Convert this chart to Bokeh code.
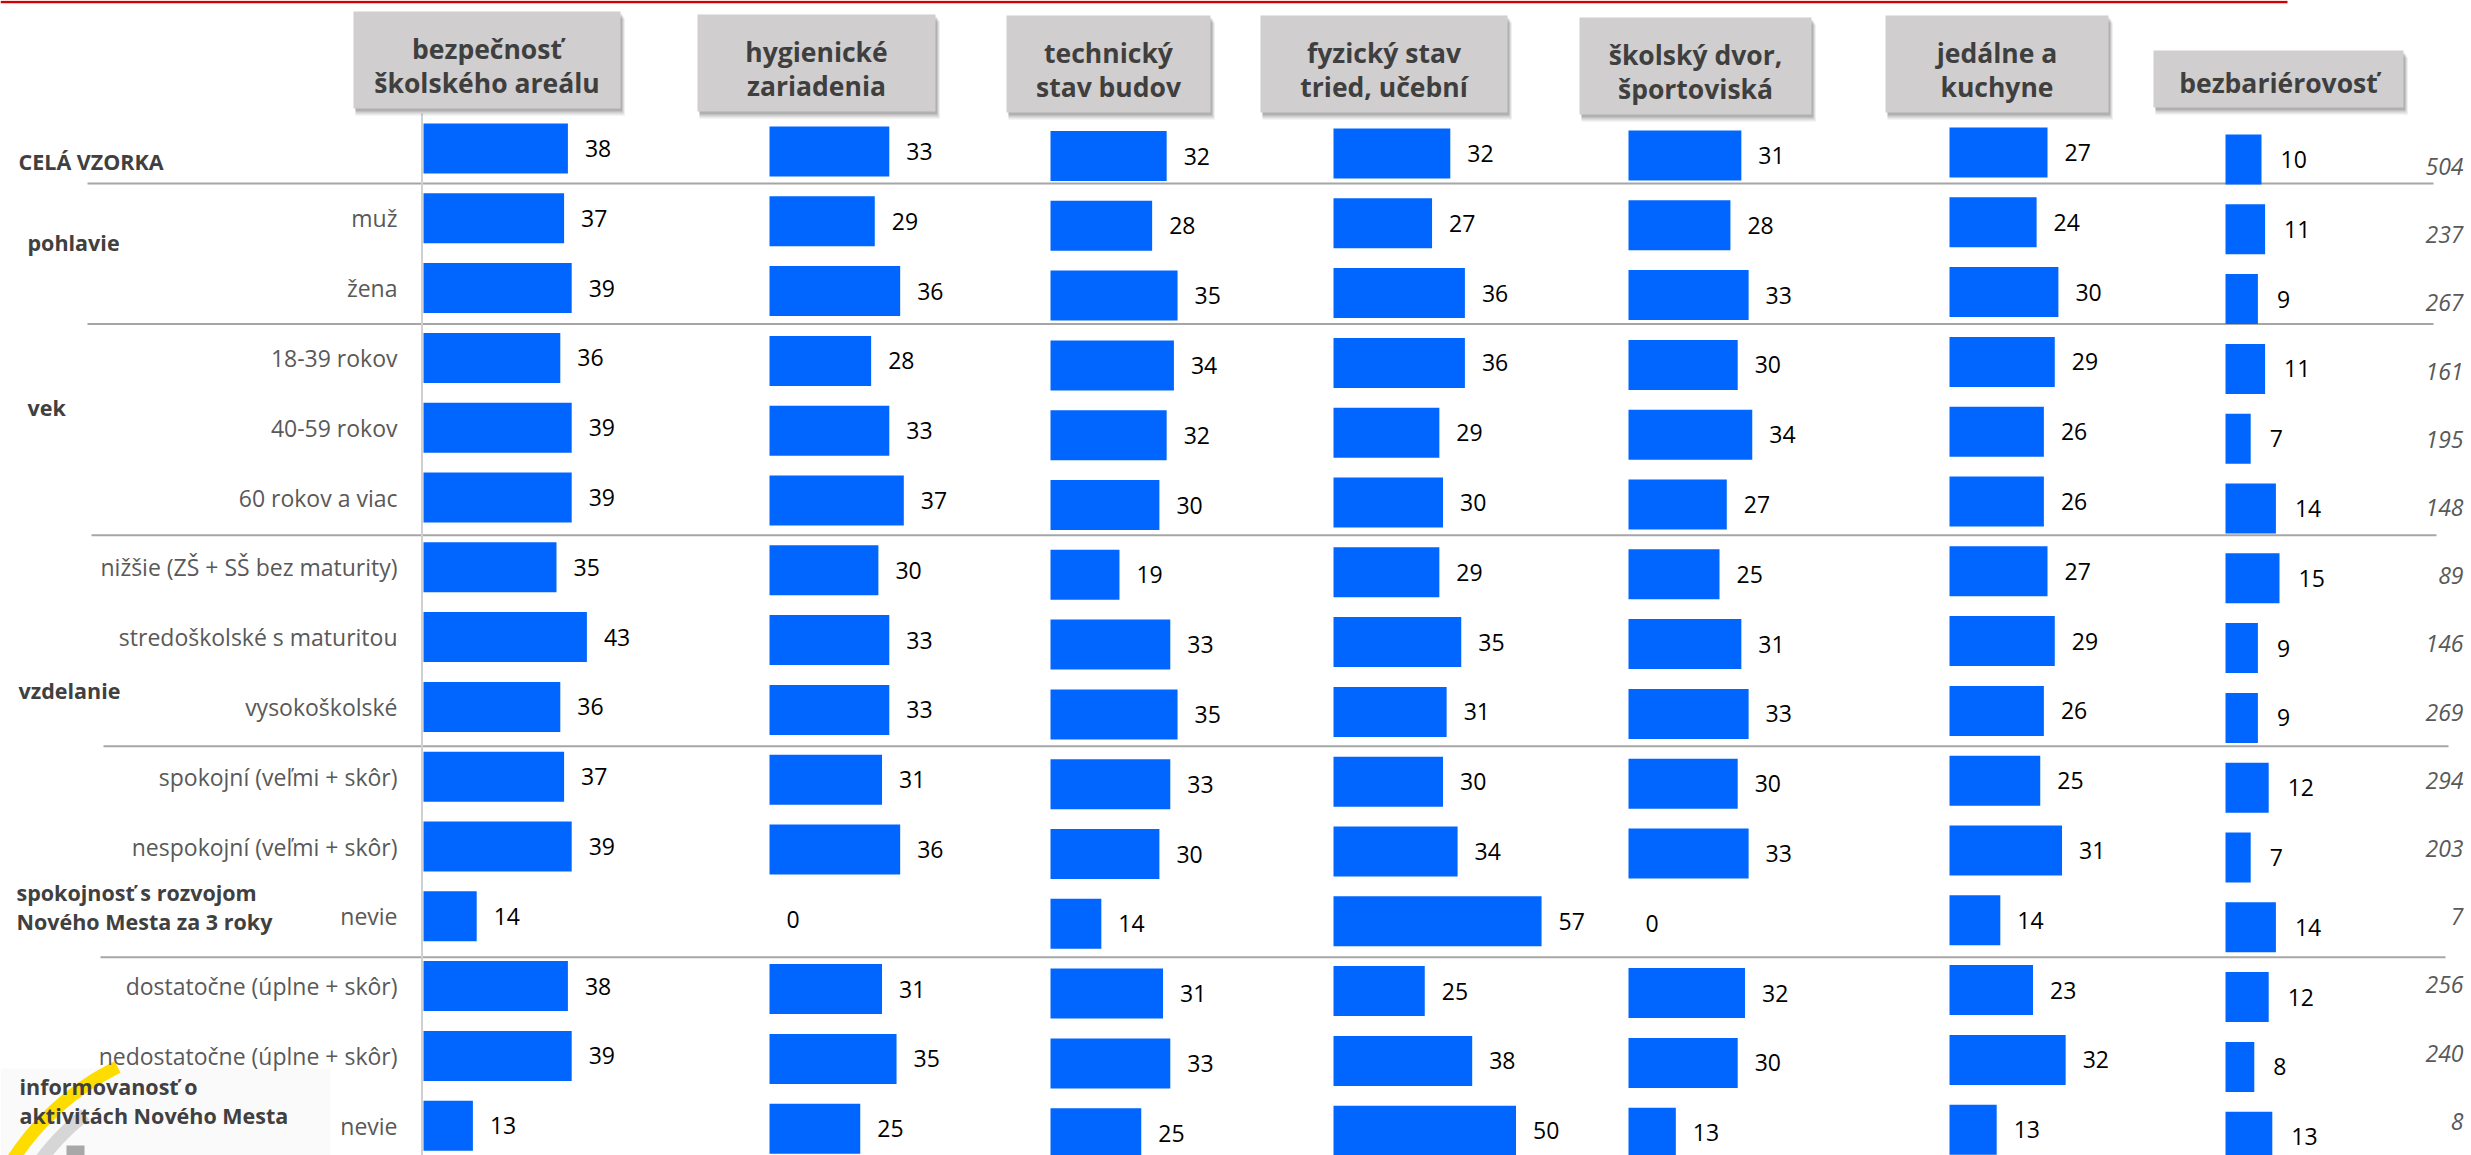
import numpy as np
from bokeh.plotting import figure
from bokeh.models import Range1d, ColumnDataSource
from bokeh.core.properties import value
from bokeh.embed import file_html
from bokeh.resources import INLINE

# ---------------- data ----------------
panel_titles = ["bezpečnosť\nškolského areálu", "hygienické\nzariadenia", "technický\nstav budov",
                "fyzický stav\ntried, učební", "školský dvor,\nšportoviská", "jedálne a\nkuchyne",
                "bezbariérovosť"]

row_labels = ["", "muž", "žena", "18-39 rokov", "40-59 rokov", "60 rokov a viac",
              "nižšie (ZŠ + SŠ bez maturity)", "stredoškolské s maturitou", "vysokoškolské",
              "spokojní (veľmi + skôr)", "nespokojní (veľmi + skôr)", "nevie",
              "dostatočne (úplne + skôr)", "nedostatočne (úplne + skôr)", "nevie"]

group_labels = ["CELÁ VZORKA", "pohlavie", "vek", "vzdelanie",
                "spokojnosť s rozvojom\nNového Mesta za 3 roky",
                "informovanosť o\naktivitách Nového Mesta"]

bezpecnost = [38, 37, 39, 36, 39, 39, 35, 43, 36, 37, 39, 14, 38, 39, 13]
hygienicke = [33, 29, 36, 28, 33, 37, 30, 33, 33, 31, 36, 0, 31, 35, 25]
technicky = [32, 28, 35, 34, 32, 30, 19, 33, 35, 33, 30, 14, 31, 33, 25]
fyzicky = [32, 27, 36, 36, 29, 30, 29, 35, 31, 30, 34, 57, 25, 38, 50]
skolsky_dvor = [31, 28, 33, 30, 34, 27, 25, 31, 33, 30, 33, 0, 32, 30, 13]
jedalne = [27, 24, 30, 29, 26, 26, 27, 29, 26, 25, 31, 14, 23, 32, 13]
bezbarierovost = [10, 11, 9, 11, 7, 14, 15, 9, 9, 12, 7, 14, 12, 8, 13]
sample_n = [504, 237, 267, 161, 195, 148, 89, 146, 269, 294, 203, 7, 256, 240, 8]

series = [bezpecnost, hygienicke, technicky, fyzicky, skolsky_dvor, jedalne, bezbarierovost]

# ---------------- layout (pixel space) ----------------
W, H = 2471, 1155
FONT = value("Open Sans")
bar_left = [423, 769, 1050, 1333, 1628, 1949, 2225]
px_per_unit = [3.8, 3.63, 3.63, 3.65, 3.64, 3.63, 3.6]
y_shift = [0, 3, 7.5, 5, 7, 4, 11]
row0, row_step, bar_h = 148.0, 69.8, 50
boxes = [(353, 620, 11, 108), (697, 935, 14, 111), (1006, 1210, 15, 112), (1260, 1507, 15, 112),
         (1579, 1811, 17, 114), (1885, 2108, 15, 112), (2153, 2403, 50, 107)]
group_pos = [(18, 161), (27, 242), (27, 407), (18, 690), (16, 892), (19, 1086)]
sep_after = [0, 2, 5, 8, 11]
sep_x = [(87, 2433), (87, 2433), (91, 2436), (103, 2448), (100, 2445)]

p = figure(width=W, height=H, x_range=Range1d(0, W), y_range=Range1d(H, 0),
           output_backend="svg", toolbar_location=None, x_axis_location=None,
           y_axis_location=None, min_border=0)
p.grid.visible = False
p.outline_line_color = None
p.background_fill_color = "white"
p.border_fill_color = "white"

# faint logo background and logo arcs (decoration)
p.quad(left=0, right=330, top=1068, bottom=1155, fill_color="#fafafa", line_color=None)
t = np.radians(np.linspace(116, 165, 80))
p.line(232 + 262 * np.cos(t), 1302 - 262 * np.sin(t), line_color="#FFDC00", line_width=13)
t2 = np.radians(np.linspace(128, 170, 80))
p.line(230 + 236 * np.cos(t2), 1300 - 236 * np.sin(t2), line_color="#D6D6D6", line_width=13)
p.quad(left=66, right=84, top=1145, bottom=1155, fill_color="#A8A8A8", line_color=None)

# red top rule
p.segment(x0=[0], x1=[2287], y0=[1.5], y1=[1.5], line_color="#D40000", line_width=2.5)

row_y = row0 + row_step * np.arange(len(row_labels))

# separators
for (xa, xb), r in zip(sep_x, sep_after):
    ys = row0 + row_step * (r + 0.5) + 0.6 * r / 11 * 10
    p.segment(x0=[xa], x1=[xb], y0=[ys], y1=[ys], line_color="#A6A6A6", line_width=2)

# vertical axis line of first panel
p.segment(x0=[421.5], x1=[421.5], y0=[113], y1=[1155], line_color="#D0D0D0", line_width=2)

# header boxes with shadow
for (l, r, tp, bt), title in zip(boxes, panel_titles):
    for off, a in [(7, 0.10), (5, 0.14), (3, 0.2)]:
        p.quad(left=l + 2, right=r + off * 0.6, top=tp + off, bottom=bt + off,
               fill_color="#303030", fill_alpha=a, line_color=None)
    p.quad(left=l, right=r, top=tp, bottom=bt, fill_color="#D0CECE", line_color=None)
    lines = title.split("\n")
    cx = (l + r) / 2
    if len(lines) == 2:
        ly = [tp + 37, tp + 71]
    else:
        ly = [(tp + bt) / 2 + 4]
    p.text(x=[cx] * len(lines), y=ly, text=lines, text_font=FONT, text_font_size="26.5px",
           text_font_style="bold", text_color="#3F3F3F", text_align="center",
           text_baseline="middle")

# bars and value labels
for i, vals in enumerate(series):
    v = np.array(vals, dtype=float)
    left = np.full(len(v), bar_left[i], dtype=float)
    right = left + v * px_per_unit[i]
    y = row_y + y_shift[i]
    src = ColumnDataSource(dict(y=y, left=left, right=right, lx=right + (19 if i == 6 else 17),
                                t=[str(int(a)) for a in v]))
    p.hbar(y="y", left="left", right="right", height=bar_h, fill_color="#0066FF",
           line_color=None, source=src)
    p.text(x="lx", y="y", text="t", text_font=FONT, text_font_size="23px",
           text_color="#000000", text_align="left", text_baseline="middle", source=src)

# row labels
p.text(x=[397] * len(row_labels), y=row_y, text=row_labels, text_font=FONT,
       text_font_size="23px", text_color="#595959", text_align="right", text_baseline="middle")

# group labels
for lab, (gx, gy) in zip(group_labels, group_pos):
    lines = lab.split("\n")
    p.text(x=[gx] * len(lines), y=[gy + 29 * k for k in range(len(lines))], text=lines,
           text_font=FONT, text_font_size="21.5px", text_font_style="bold",
           text_color="#404040", text_align="left", text_baseline="middle")

# sample sizes
n_y = 166 + 68.2 * np.arange(len(sample_n))
p.text(x=[2463] * len(sample_n), y=n_y, text=[str(n) for n in sample_n], text_font=FONT,
       text_font_size="23px", text_font_style="italic", text_color="#595959",
       text_align="right", text_baseline="middle")

open("out.html", "w").write(file_html(p, INLINE))
